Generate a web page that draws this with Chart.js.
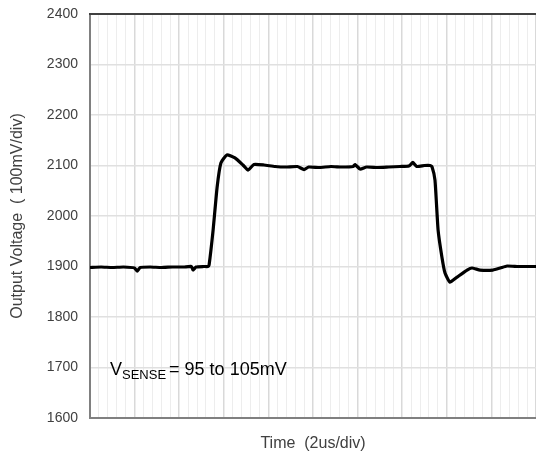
<!DOCTYPE html>
<html>
<head>
<meta charset="utf-8">
<script src="https://cdn.jsdelivr.net/npm/chart.js@4/dist/chart.umd.min.js"></script>
<style>
  html, body { margin: 0; padding: 0; background: #fff; }
  #wrap { width: 536px; height: 457px; position: relative; }
</style>
</head>
<body>
<div id="wrap"><canvas id="chart"></canvas></div>
<script>
// time in us (2us/div, 10 divisions), output voltage in mV
const timeUs = [0, 0.5, 1.0, 1.5, 2.0, 2.11, 2.25, 2.7, 3.2, 3.7, 4.2, 4.55, 4.62, 4.75, 5.1, 5.29,
  5.34, 5.52, 5.70, 5.87, 6.14, 6.50, 6.86, 7.09, 7.35, 7.8, 8.3, 8.8, 9.3, 9.6, 9.8, 10.3, 10.8,
  11.3, 11.8, 11.88, 12.11, 12.4, 12.9, 13.4, 13.9, 14.3, 14.48, 14.65, 15.0, 15.25, 15.34, 15.47,
  15.61, 15.78, 15.92, 16.14, 16.46, 16.91, 17.13, 17.49, 18.07, 18.4, 18.70, 19.2, 19.6, 20];
const voltageMv = [1898, 1899, 1898, 1899, 1897, 1891, 1898, 1899, 1898, 1899, 1899, 1900, 1893, 1899, 1900, 1900,
  1903, 1972, 2057, 2105, 2121, 2115, 2101, 2091, 2102, 2101, 2098, 2097, 2098, 2092, 2097, 2096, 2098,
  2097, 2098, 2102, 2093, 2097, 2096, 2097, 2098, 2099, 2106, 2098, 2100, 2100, 2097, 2071,
  1972, 1919, 1887, 1869, 1879, 1893, 1897, 1893, 1893, 1897, 1901, 1900, 1900, 1900];
const yTicks = [1600, 1700, 1800, 1900, 2000, 2100, 2200, 2300, 2400];

const points = timeUs.map((t, i) => ({ x: t, y: voltageMv[i] }));
const FONT = '"Liberation Sans", Arial, sans-serif';

const frame = {
  id: 'frame',
  afterDraw(chart) {
    const { ctx, chartArea: a } = chart;
    ctx.save();
    ctx.strokeStyle = '#404040';
    ctx.lineWidth = 2;
    ctx.beginPath();
    ctx.moveTo(a.left - 1, a.top);
    ctx.lineTo(a.right, a.top);
    ctx.stroke();
    // annotation
    ctx.fillStyle = '#000';
    ctx.textBaseline = 'alphabetic';
    ctx.font = '18px ' + FONT;
    let x = 110, y = 375;
    ctx.fillText('V', x, y);
    x += ctx.measureText('V').width;
    ctx.font = '13px ' + FONT;
    ctx.fillText('SENSE', x, y + 4);
    x += ctx.measureText('SENSE').width + 3;
    ctx.font = '18px ' + FONT;
    ctx.fillText('= 95 to 105mV', x, y);
    ctx.restore();
  }
};

new Chart(document.getElementById('chart'), {
  type: 'line',
  data: {
    datasets: [{
      data: points,
      borderColor: '#000',
      borderWidth: 3.2,
      pointRadius: 0,
      tension: 0.15,
      fill: false
    }]
  },
  options: {
    responsive: true,
    maintainAspectRatio: false,
    animation: false,
    layout: { padding: { top: 14, right: 0, left: 2, bottom: 0 } },
    plugins: { legend: { display: false }, tooltip: { enabled: false } },
    scales: {
      x: {
        type: 'linear',
        min: 0,
        max: 20,
        afterBuildTicks(axis) {
          const t = [];
          for (let i = 0; i <= 50; i++) t.push({ value: i * 0.4 });
          axis.ticks = t;
        },
        afterFit(axis) { axis.height = 39; axis.paddingLeft = 0; axis.paddingRight = 0; },
        ticks: { display: false },
        grid: {
          drawTicks: false,
          color: c => (c.index % 5 === 0 ? '#d9d9d9' : '#ededed'),
          lineWidth: c => (c.index % 5 === 0 ? 1.5 : 1)
        },
        border: { color: '#808080', width: 2 },
        title: {
          display: true,
          text: 'Time  (2us/div)',
          color: '#404040',
          font: { family: FONT, size: 16 },
          padding: { top: 10 }
        }
      },
      y: {
        min: 1600,
        max: 2400,
        afterBuildTicks(axis) { axis.ticks = yTicks.map(v => ({ value: v })); },
        afterFit(axis) { axis.width = 88; axis.paddingTop = 0; axis.paddingBottom = 0; },
        ticks: {
          color: '#404040',
          padding: 12,
          callback: v => String(v),
          font: { family: FONT, size: 14 }
        },
        grid: { drawTicks: false, color: '#e0e0e0', lineWidth: 1.5 },
        border: { color: '#808080', width: 2 },
        title: {
          display: true,
          text: 'Output Voltage  ( 100mV/div)',
          color: '#404040',
          font: { family: FONT, size: 16 },
          padding: { top: 6, bottom: 0 }
        }
      }
    }
  },
  plugins: [frame]
});
</script>
</body>
</html>
